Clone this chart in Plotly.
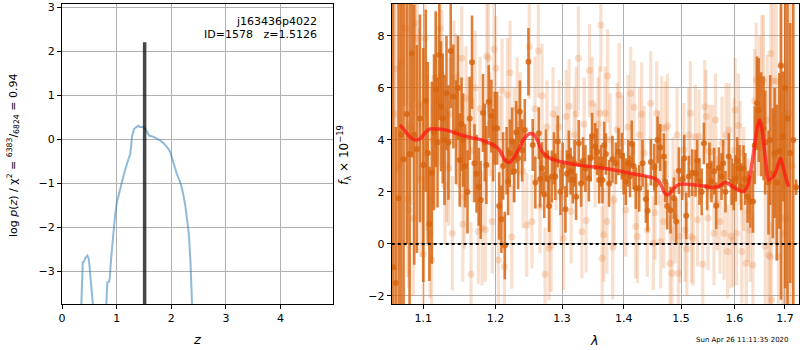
import plotly.graph_objects as go

# ---------------- left panel: redshift PDF ----------------
pz_z = [0.35, 0.365, 0.38, 0.40, 0.43, 0.465, 0.49, 0.50, 0.52, 0.545, 0.575, None,
        0.805, 0.815, 0.83, 0.86, 0.875, 0.90, 0.94, 0.97, 1.00, 1.05, 1.085, 1.12, 1.19,
        1.25, 1.27, 1.28, 1.32, 1.36, 1.40, 1.42, 1.48, 1.52, 1.55, 1.60, 1.67, 1.74,
        1.80, 1.86, 1.92, 1.98, 2.02, 2.04, 2.07, 2.10, 2.17, 2.22, 2.26, 2.30, 2.32,
        2.35, 2.37, 2.385]
pz_logp = [-3.9, -2.9, -2.8, -2.79, -2.70, -2.65, -2.72, -2.85, -3.2, -3.55, -3.9, None,
           -3.9, -3.35, -3.26, -3.25, -3.15, -2.70, -2.07, -1.75, -1.46, -1.20, -1.00, -0.86, -0.55,
           -0.33, -0.10, 0.06, 0.24, 0.27, 0.31, 0.28, 0.28, 0.24, 0.18, 0.08, 0.06, 0.02,
           -0.03, -0.09, -0.17, -0.29, -0.45, -0.55, -0.62, -0.78, -1.00, -1.25, -1.54, -1.95, -2.14,
           -2.75, -3.3, -3.9]
z_best = 1.5126
z_line_logp = [-3.9, 2.21]
field_name = "j163436p4022"
obj_id = 1578
chi2_num, chi2_den, chi2_ratio = 6383, 6824, 0.94

# ---------------- right panel: spectrum ----------------
dark_wave = [1.0608, 1.0641, 1.0678, 1.0710, 1.0742, 1.0783, 1.0820, 1.0851, 1.0881, 1.0916,
             1.0956, 1.1000, 1.1032, 1.1060, 1.1081, 1.1113, 1.1143, 1.1166, 1.1190, 1.1214,
             1.1237, 1.1260, 1.1284, 1.1311, 1.1338, 1.1369, 1.1405, 1.1442, 1.1469,
             1.1493, 1.1518, 1.1539, 1.1567, 1.1601, 1.1632, 1.1664, 1.1699, 1.1728, 1.1759,
             1.1787, 1.1820, 1.1845, 1.1868, 1.1902, 1.1939, 1.1964, 1.1988, 1.2022, 1.2051,
             1.2084, 1.2109, 1.2134, 1.2160, 1.2182, 1.2207, 1.2241, 1.2271, 1.2301, 1.2330,
             1.2356, 1.2390, 1.2429, 1.2484,
             1.2548, 1.2588, 1.2640, 1.2660, 1.2690, 1.2724, 1.2749, 1.2779, 1.2799, 1.2841,
             1.2873, 1.2894, 1.2932, 1.2974, 1.3008, 1.3052, 1.3076, 1.3106, 1.3134, 1.3169,
             1.3197, 1.3221, 1.3264, 1.3301, 1.3333, 1.3370, 1.3425, 1.3454, 1.3478, 1.3527,
             1.3560, 1.3593, 1.3625, 1.3647, 1.3675, 1.3703, 1.3757, 1.3812, 1.3869, 1.3913,
             1.3969, 1.3999, 1.4036, 1.4079, 1.4107, 1.4137, 1.4168, 1.4206, 1.4264, 1.4321,
             1.4380, 1.4408, 1.4466, 1.4524, 1.4550, 1.4582, 1.4629,
             1.4694, 1.4717, 1.4753, 1.4811, 1.4872, 1.4914, 1.4962, 1.5022, 1.5058, 1.5095,
             1.5143, 1.5204, 1.5264, 1.5295, 1.5337, 1.5378, 1.5419, 1.5480, 1.5523, 1.5560,
             1.5611, 1.5649, 1.5700, 1.5749, 1.5781, 1.5825, 1.5889, 1.5943,
             1.5982, 1.6021, 1.6050, 1.6095, 1.6127, 1.6173, 1.6207, 1.6252, 1.6306, 1.6358,
             1.6393, 1.6436, 1.6471, 1.6520, 1.6566, 1.6600, 1.6666, 1.6700, 1.6753, 1.6789,
             1.6832, 1.6884, 1.6919, 1.6961, 1.7003, 1.7051, 1.7108, 1.7171, 1.7230]
dark_flux = [-0.9, -1.5, 1.76, 4.2, 3.26, 5.0, 3.46, 7.33, 4.2, 3.65,
             4.83, 3.04, 5.51, 3.5, 0.77, 2.74, 4.3, 5.95, 3.9, 7.27,
             5.3, 4.83, 4.0, 5.8, 3.9, 7.42, 5.67, 4.3, 6.0,
             3.23, 4.6, 4.0, 3.0, 2.0, 4.83, 6.99, 3.1, 2.7, 2.2,
             1.69, 5.04, 3.9, 3.04, 5.47, 4.92, 3.8, 4.45, 4.45, 1.46,
             0.95, 3.0, -0.06, 3.2, 2.4, 3.49, 3.95, 2.8, 4.3, 3.3,
             5.09, 3.6, 4.38, 7.01,
             3.81, 2.36, 4.26, 2.5, 2.91, 1.9, 3.4, 2.5, 1.46, 2.59,
             3.3, 2.59, 3.94, 2.01, 3.0, 1.33, 2.7, 3.36, 2.8, 2.46,
             3.1, 1.82, 3.87, 2.33, 3.2, 2.9, 2.53, 3.3, 4.15, 3.75,
             3.55, 2.46, 3.0, 2.46, 3.8, 3.46, 2.33, 3.26, 3.1, 3.55,
             3.38, 2.7, 2.4, 3.1, 2.6, 3.85, 3.0, 2.14, 2.14, 3.1,
             1.72, 1.28, 3.15, 2.95, 2.3, 4.0, 3.71,
             3.36, 2.4, 1.46, 1.3, 1.76, 0.86, 2.82, 2.49, 3.3, 1.08,
             2.59, 2.74, 2.72, 3.2, 2.4, 2.0, 3.87, 2.2, 3.0, 2.4,
             2.8, 1.47, 2.92, 2.59, 3.1, 2.01, 3.36, 2.4,
             2.2, 2.53, 3.2, 2.91, 2.2, 2.9, 2.5, 1.82, 1.63, 1.63,
             3.8, 5.41, 5.15, 4.6, 4.45, 3.9, 2.36, 4.0, 2.72, 3.5,
             2.36, 3.58, 6.85, 4.13, 6.0, 4.83, 3.5, 4.0, 2.18]
dark_err = [12, 6, 8, 7, 6, 5, 6, 4, 5, 4,
            4, 4.5, 3.5, 3.5, 2.2, 3.5, 3, 3, 2.5, 2.5,
            2.5, 2.5, 2.5, 2.2, 2.2, 2.2, 2.0, 2.0, 2.0,
            1.8, 1.8, 1.8, 1.6, 1.6, 1.6, 1.8, 1.5, 1.5, 1.5,
            1.5, 1.5, 1.5, 1.5, 1.4, 1.4, 1.4, 1.4, 1.4, 1.3,
            1.3, 1.3, 1.3, 1.3, 1.3, 1.3, 1.3, 1.2, 1.2, 1.2,
            1.2, 1.2, 1.2, 1.3,
            1.0, 1.0, 1.0, 1.1, 1.0, 0.9, 1.0, 1.1, 1.0, 1.0,
            1.0, 0.9, 1.0, 0.9, 0.9, 0.9, 0.9, 1.0, 0.9, 0.9,
            0.9, 0.9, 0.9, 0.9, 0.9, 0.9, 0.9, 0.9, 0.9, 0.9,
            0.9, 0.9, 0.8, 0.9, 0.9, 0.8, 0.9, 0.9, 0.8, 0.9,
            0.9, 0.8, 0.9, 0.9, 0.8, 0.9, 0.9, 0.8, 0.9, 0.9,
            0.9, 0.8, 0.9, 0.9, 0.8, 0.9, 0.9,
            0.9, 0.8, 0.9, 0.9, 0.8, 0.9, 0.9, 0.8, 0.9, 0.9,
            0.8, 0.9, 0.9, 0.8, 0.9, 0.9, 0.8, 0.9, 0.9, 0.8,
            0.9, 0.9, 0.8, 0.9, 0.9, 0.8, 0.9, 0.9,
            0.9, 0.9, 0.9, 0.9, 0.9, 0.9, 1.0, 1.0, 1.0, 1.2,
            1.5, 1.8, 2.0, 2.0, 2.0, 2.0, 2.0, 2.5, 2.5, 2.5,
            3.0, 3.0, 9, 2.5, 7.7, 12, 5, 12, 0.3]

light_wave = [1.0624, 1.0653, 1.0683, 1.0715, 1.0741, 1.0773, 1.0795, 1.0810, 1.0838, 1.0868,
              1.0891, 1.0921, 1.0940, 1.0969, 1.1000, 1.1023, 1.1050, 1.1090, 1.1110, 1.1130,
              1.1170, 1.1196, 1.1223, 1.1250, 1.1291, 1.1314, 1.1339, 1.1359, 1.1391, 1.1414,
              1.1442, 1.1469,
              1.1521, 1.1535, 1.1557, 1.1580, 1.1608, 1.1650, 1.1678, 1.1707, 1.1753, 1.1777,
              1.1806, 1.1853, 1.1873, 1.1896, 1.1920, 1.1953, 1.1978, 1.2002, 1.2040, 1.2065,
              1.2094, 1.2128, 1.2172, 1.2211, 1.2236, 1.2271, 1.2315, 1.2360, 1.2404, 1.2458,
              1.2496,
              1.2537, 1.2582, 1.2633, 1.2659, 1.2690, 1.2736, 1.2766, 1.2797, 1.2828, 1.2859,
              1.2906, 1.2953, 1.2985, 1.3021, 1.3063, 1.3110, 1.3142, 1.3190, 1.3222, 1.3258,
              1.3313, 1.3350, 1.3382, 1.3435, 1.3479, 1.3527, 1.3576, 1.3601,
              1.3621, 1.3642, 1.3667, 1.3692, 1.3720, 1.3733, 1.3774, 1.3816, 1.3841, 1.3891,
              1.3924, 1.3974, 1.4035, 1.4074, 1.4119, 1.4176, 1.4205, 1.4233, 1.4270, 1.4307,
              1.4347, 1.4404, 1.4463, 1.4509, 1.4538, 1.4568, 1.4600, 1.4638, 1.4656, 1.4691,
              1.4720, 1.4759, 1.4803, 1.4839, 1.4857, 1.4893, 1.4929, 1.4952, 1.4983, 1.5050,
              1.5074, 1.5105, 1.5141, 1.5169, 1.5192, 1.5219, 1.5261, 1.5302, 1.5329, 1.5398,
              1.5435, 1.5459, 1.5497, 1.5525, 1.5580, 1.5608, 1.5637, 1.5665, 1.5721, 1.5759,
              1.5797, 1.5836, 1.5864, 1.5893, 1.5931, 1.5976,
              1.5990, 1.6009, 1.6038, 1.6073, 1.6106, 1.6139, 1.6175, 1.6224, 1.6264, 1.6303,
              1.6356, 1.6392, 1.6421, 1.6461, 1.6490, 1.6534, 1.6566, 1.6600, 1.6639, 1.6665,
              1.6698, 1.6712, 1.6728, 1.6759, 1.6799, 1.6819, 1.6866, 1.6912, 1.6949, 1.6986,
              1.7035, 1.7083, 1.7144]
light_flux = [5.0, 6.73, 3.0, 7.0, 8.33, 8.29, 1.73, 1.31, 4.5, 0.99,
              8.49, 7.91, 5.32, 2.5, -0.4, 7.91, 3.5, 0.41, -0.62, 4.0,
              6.4, 5.5, 8.29, 6.5, 2.24, 3.04, 2.9, 5.0, 0.41, 6.4,
              5.9, 4.4,
              7.14, 0.76, 1.82, 5.6, 4.2, -1.17, 3.6, 6.0, 0.47, 5.2,
              0.6, 0.55, 7.23, 7.14, 4.6, 0.86, 7.49, 6.76, -0.62, 3.5,
              5.9, -0.87, 5.73, 6.59, 0.28, 3.8, 5.2, 4.6, 2.8, 0.73,
              7.59,
              0.86, 5.2, 7.42, 1.44, 5.7, -1.17, 4.5, -0.17, -0.05, 5.0,
              3.3, 4.5, 1.8, 0.22, 4.9, 5.3, 1.25, 4.2, 5.0, 7.14,
              0.47, 4.6, 0.9, 6.67, 5.4, 3.4, 4.6, 5.03,
              8.42, -0.55, 0.35, 5.03, 0.86, 6.46, 4.0, -0.13, 1.69, 4.4,
              5.73, 3.9, 1.31, 4.5, 5.79, 5.26, 0.67, 0.29, 4.2, 4.99,
              3.5, 0.54, 5.41, 0.03, 1.2, 5.03, 3.3, 0.09, 4.45, 0.86,
              4.45, 4.54, -0.74, -1.13, 2.1, 1.05, 4.19, -1.13, 0.3, 3.62,
              0.54, -0.19, 4.19, 5.03, 0.29, 0.2, 4.12, 0.93, 4.14, -0.78,
              5.28, 4.9, 1.0, 3.55, 3.55, 0.41, 4.77, 1.56, 0.86, 3.87,
              0.41, 4.19, -0.29, 4.38, 0.3, 0.15,
              3.6, 5.15, 0.41, 4.56, 3.5, -0.29, 2.5, -0.74, 1.3, 0.54,
              -0.81, 5.5, 6.31, 4.8, 5.79, 6.31, 6.31, -0.1, 4.77, -0.42,
              -0.49, 7.33, -2.15, 6.27, 3.0, 6.27, -0.49, 6.88, 1.0, 0.4,
              0.99, 5.0, 3.0]
light_err = [6, 4, 4, 4, 3, 3, 3, 3, 3, 3,
             3, 3, 3, 3, 3, 3, 3, 2.5, 2.5, 2.5,
             2.5, 2.5, 2.5, 2.5, 2.2, 2.2, 2.2, 2.2, 2.2, 2.2,
             2.2, 2.2,
             2.0, 2.2, 2.0, 2.0, 2.2, 2.0, 2.0, 2.2, 2.0, 2.0,
             2.2, 2.0, 2.0, 2.2, 2.0, 2.0, 2.2, 2.0, 2.0, 2.2,
             2.0, 2.0, 2.2, 2.0, 2.0, 2.2, 2.0, 2.0, 2.2, 2.0,
             2.0,
             1.8, 2.0, 1.8, 1.8, 2.0, 1.8, 1.8, 2.0, 1.8, 1.8,
             2.0, 1.8, 1.8, 2.0, 1.8, 1.8, 2.0, 1.8, 1.8, 2.0,
             1.8, 1.8, 2.0, 1.8, 1.8, 2.0, 1.8, 1.8,
             1.8, 2.0, 1.8, 1.8, 2.0, 1.8, 1.8, 2.0, 1.8, 1.8,
             2.0, 1.8, 1.8, 2.0, 1.8, 1.8, 2.0, 1.8, 1.8, 2.0,
             1.8, 1.8, 2.0, 1.8, 1.8, 2.0, 1.8, 1.8, 2.0, 1.8,
             1.8, 2.0, 1.8, 1.8, 2.0, 1.8, 1.8, 2.0, 1.8, 1.8,
             2.0, 1.8, 1.8, 2.0, 1.8, 1.8, 2.0, 1.8, 1.8, 2.0,
             1.8, 1.8, 2.0, 1.8, 1.8, 2.0, 1.8, 1.8, 2.0, 1.8,
             1.8, 2.0, 1.8, 1.8, 2.0, 1.8,
             2.0, 2.0, 2.0, 2.0, 2.0, 2.0, 2.0, 2.0, 2.0, 2.0,
             2.0, 2.0, 2.2, 2.2, 2.2, 2.5, 2.5, 2.5, 2.5, 2.5,
             2.5, 3, 3, 3, 3, 3, 3, 4, 4, 5,
             6, 8, 8]

model_wave = [1.0696, 1.0760, 1.0830, 1.0900, 1.0960, 1.1030, 1.1090, 1.1200, 1.1313, 1.1497,
              1.1636, 1.1800, 1.1920, 1.2000, 1.2060, 1.2130, 1.2190, 1.2250, 1.2330, 1.2420,
              1.2500, 1.2560, 1.2610, 1.2680, 1.2750, 1.2850, 1.3000, 1.3200, 1.3550, 1.3900,
              1.4107, 1.4350, 1.4520, 1.4600, 1.4650, 1.4700, 1.4760, 1.4820, 1.4880, 1.4960,
              1.5100, 1.5264, 1.5450, 1.5575, 1.5700, 1.5826, 1.5916, 1.6050, 1.6173, 1.6250,
              1.6306, 1.6360, 1.6404, 1.6450, 1.6489, 1.6530, 1.6569, 1.6620, 1.6669, 1.6740,
              1.6805, 1.6860, 1.6908, 1.6950, 1.6993, 1.7040, 1.7075]
model_flux = [4.58, 4.35, 4.10, 4.00, 4.05, 4.30, 4.42, 4.42, 4.38, 4.20,
              4.10, 4.00, 3.87, 3.75, 3.60, 3.25, 3.13, 3.25, 3.60, 4.05,
              4.24, 4.22, 4.05, 3.60, 3.40, 3.25, 3.15, 3.06, 2.95, 2.82,
              2.72, 2.62, 2.53, 2.42, 2.25, 1.98, 1.88, 2.00, 2.16, 2.28,
              2.30, 2.27, 2.22, 2.17, 2.22, 2.36, 2.27, 2.10, 2.01, 2.25,
              2.72, 3.40, 4.00, 4.55, 4.77, 4.45, 3.87, 3.00, 2.46, 2.55,
              2.72, 3.05, 3.29, 3.05, 2.72, 2.40, 2.20]

x_ticks_right = [1.1, 1.2, 1.3, 1.4, 1.5, 1.6, 1.7]
x_tick_labels_right = ["1.1", "1.2", "1.3", "1.4", "1.5", "1.6", "1.7"]
timestamp = "Sun Apr 26 11:11:35 2020"

assert len(dark_wave) == len(dark_flux) == len(dark_err)
assert len(light_wave) == len(light_flux) == len(light_err)
assert len(model_wave) == len(model_flux)
assert len(pz_z) == len(pz_logp)

FONT = "DejaVu Sans"
DARK = "rgba(215,100,15,0.82)"
LIGHT = "rgba(232,132,62,0.26)"

fig = go.Figure()

# left panel
fig.add_trace(go.Scatter(x=pz_z, y=pz_logp, mode="lines", connectgaps=False,
                         line=dict(color="rgba(31,119,180,0.5)", width=2),
                         xaxis="x", yaxis="y", showlegend=False))
fig.add_trace(go.Scatter(x=[z_best, z_best], y=z_line_logp, mode="lines",
                         line=dict(color="rgba(0,0,0,0.72)", width=3.5),
                         xaxis="x", yaxis="y", showlegend=False))

# right panel
fig.add_trace(go.Scatter(x=light_wave, y=light_flux, mode="markers",
                         marker=dict(color=LIGHT, size=7),
                         error_y=dict(type="data", array=light_err, color=LIGHT,
                                      thickness=3.2, width=0),
                         xaxis="x2", yaxis="y2", showlegend=False))
fig.add_trace(go.Scatter(x=dark_wave, y=dark_flux, mode="markers",
                         marker=dict(color=DARK, size=6),
                         error_y=dict(type="data", array=dark_err, color=DARK,
                                      thickness=2.6, width=0),
                         xaxis="x2", yaxis="y2", showlegend=False))
fig.add_trace(go.Scatter(x=model_wave, y=model_flux, mode="lines",
                         line=dict(color="rgba(255,20,20,0.72)", width=3.5, shape="spline"),
                         xaxis="x2", yaxis="y2", showlegend=False))

ax_common = dict(showgrid=True, gridcolor="#b0b0b0", gridwidth=1, zeroline=False,
                 showline=True, mirror=True, linecolor="black", linewidth=1,
                 ticks="outside", ticklen=4, tickcolor="black", tickwidth=1,
                 automargin=False,
                 tickfont=dict(family=FONT, size=11, color="black"))

ydom = [46 / 350, 346 / 350]
fig.update_layout(
    width=800, height=350,
    margin=dict(l=0, r=0, t=0, b=0, autoexpand=False),
    paper_bgcolor="white", plot_bgcolor="white",
    font=dict(family=FONT, size=11, color="black"),
    xaxis=dict(domain=[62 / 800, 333 / 800], range=[0, 4.96], tickvals=[0, 1, 2, 3, 4],
               anchor="y", **ax_common),
    yaxis=dict(domain=ydom, range=[-3.75, 3.08], tickvals=[-3, -2, -1, 0, 1, 2, 3],
               anchor="x", **ax_common),
    xaxis2=dict(domain=[391.7 / 800, 799 / 800], type="log", range=[0.02487, 0.23777],
                tickvals=x_ticks_right, ticktext=x_tick_labels_right, anchor="y2", **ax_common),
    yaxis2=dict(domain=ydom, range=[-2.31, 9.23], tickvals=[-2, 0, 2, 4, 6, 8],
                anchor="x2", **ax_common),
    shapes=[dict(type="line", xref="x2 domain", yref="y2", x0=0, x1=1, y0=0, y1=0,
                 line=dict(color="black", width=2, dash="dot"), layer="above")],
)

def ann(text, x, y, **kw):
    d = dict(text=text, x=x / 800, y=1 - y / 350, xref="paper", yref="paper",
             showarrow=False, font=dict(family=FONT, size=kw.pop("size", 11), color="black"))
    d.update(kw)
    fig.add_annotation(**d)

ann(field_name, 319, 21, xanchor="right", yanchor="middle")
ann(f"ID={obj_id}\u00a0\u00a0\u00a0z={z_best:.4f}", 319, 35, xanchor="right", yanchor="middle")
ann("<i>z</i>", 197, 339, xanchor="center", yanchor="middle", size=13)
ann("<i>λ</i>", 594, 340, xanchor="center", yanchor="middle", size=13)
ann(f"log <i>p</i>(<i>z</i>) / χ<sup>2</sup> = <sup>{chi2_num}</sup>/<sub>{chi2_den}</sub> = {chi2_ratio:.2f}",
    13, 156, xanchor="center", yanchor="middle", textangle=-90, size=11)
ann("<i>f</i><sub>λ</sub> × 10<sup>−19</sup>", 344, 155, xanchor="center", yanchor="middle",
    textangle=-90, size=12)
ann(timestamp, 742, 340, xanchor="center", yanchor="middle", size=7)

fig.write_html("out.html", config={"displayModeBar": False},
               post_script="document.body.style.margin='0';document.body.style.padding='0';")
